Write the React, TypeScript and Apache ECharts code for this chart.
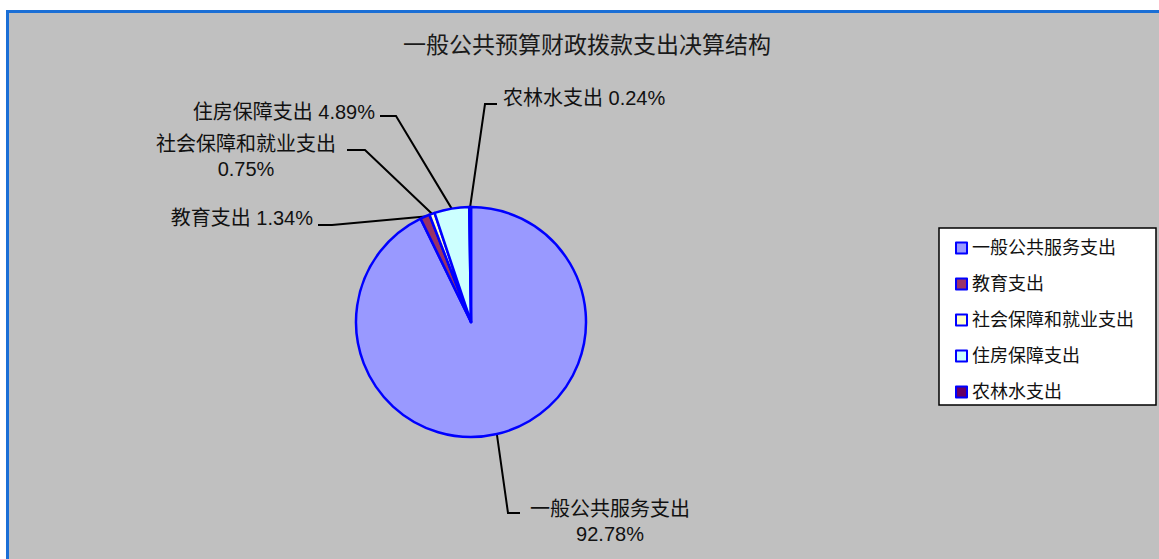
import React, { useEffect, useRef } from 'react';
import * as echarts from 'echarts';

const TITLE = '一般公共预算财政拨款支出决算结构';
const CATEGORIES = ['一般公共服务支出', '教育支出', '社会保障和就业支出', '住房保障支出', '农林水支出'];
const VALUES = [92.78, 1.34, 0.75, 4.89, 0.24];
const COLORS = ['#9999FF', '#993366', '#FFFFCC', '#CCFFFF', '#660066'];
const TWO_LINE = [true, false, true, false, false];

// Label placement (layout only): text anchor x, text top y, alignment,
// leader line horizontal segment from lx (near text) to ex (elbow) at height ly.
const LABEL_LAYOUT = [
  { x: 610, y: 496, align: 'center', lx: 520, ex: 508, ly: 513 },
  { x: 313, y: 205, align: 'right', lx: 318, ex: 332, ly: 225 },
  { x: 246, y: 131, align: 'center', lx: 347, ex: 365, ly: 150 },
  { x: 375, y: 99.5, align: 'right', lx: 380, ex: 396, ly: 116 },
  { x: 503, y: 85, align: 'left', lx: 497, ex: 485, ly: 104 },
];

const FONT = "'Liberation Sans', 'Noto Sans CJK SC', sans-serif";

export default function App() {
  const ref = useRef<HTMLDivElement>(null);
  useEffect(() => {
    if (!ref.current) return;
    const chart = echarts.init(ref.current, undefined, { renderer: 'svg' });
    const data = CATEGORIES.map((name, i) => ({
      name,
      value: VALUES[i],
      itemStyle: { color: COLORS[i] },
      label: { formatter: TWO_LINE[i] ? '{b}\n{d}%' : '{b} {d}%' },
    }));
    chart.setOption({
      animation: false,
      backgroundColor: '#ffffff',
      graphic: [
        {
          type: 'rect',
          z: -10,
          shape: { x: 7.5, y: 11.5, width: 1300, height: 700 },
          style: { fill: '#c0c0c0', stroke: '#1b6fd6', lineWidth: 3 },
        },
        {
          type: 'text',
          x: 587,
          y: 45,
          style: {
            text: TITLE,
            fontSize: 23,
            fontFamily: FONT,
            fill: '#1a1a1a',
            align: 'center',
            verticalAlign: 'middle',
            textAlign: 'center',
            textVerticalAlign: 'middle',
          },
        },
      ],
      legend: {
        orient: 'vertical',
        left: 939,
        top: 228,
        padding: [11, 22, 4, 16],
        itemWidth: 11,
        itemHeight: 11,
        itemGap: 18,
        icon: 'rect',
        backgroundColor: '#ffffff',
        borderColor: '#000000',
        borderWidth: 1.5,
        selectedMode: false,
        textStyle: { fontSize: 18, lineHeight: 18, color: '#111', fontFamily: FONT },
        itemStyle: { borderColor: '#0000ff', borderWidth: 2 },
        data: CATEGORIES,
      },
      series: [
        {
          type: 'pie',
          center: [471, 322],
          radius: 115,
          startAngle: 90,
          clockwise: true,
          selectedMode: false,
          avoidLabelOverlap: false,
          itemStyle: { borderColor: '#0000ff', borderWidth: 2.5 },
          emphasis: { disabled: true },
          label: {
            show: true,
            position: 'outside',
            fontSize: 20,
            lineHeight: 25,
            color: '#111',
            fontFamily: FONT,
          },
          labelLine: {
            show: true,
            length: 10,
            length2: 10,
            lineStyle: { color: '#000', width: 2 },
          },
          labelLayout: (params: any) => {
            const L = LABEL_LAYOUT[params.dataIndex];
            const pts = params.labelLinePoints;
            const anchor = pts && pts[0] ? pts[0] : [L.ex, L.ly];
            return {
              x: L.x,
              y: L.y,
              align: L.align,
              verticalAlign: 'top',
              labelLinePoints: [anchor, [L.ex, L.ly], [L.lx, L.ly]],
            };
          },
          data,
        },
      ],
    });
    return () => chart.dispose();
  }, []);
  return (
    <div
      ref={ref}
      style={{ position: 'fixed', left: 0, top: 0, width: 1159, height: 559 }}
    />
  );
}
